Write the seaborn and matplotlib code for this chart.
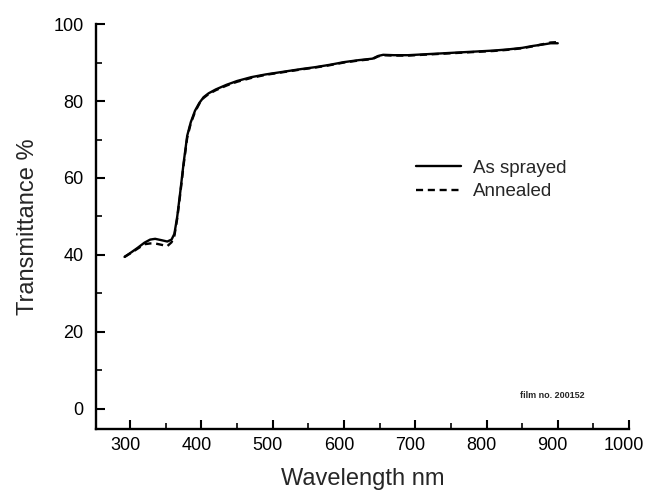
import matplotlib
matplotlib.use("Agg")
import matplotlib.pyplot as plt
from matplotlib.ticker import MultipleLocator
import matplotlib.transforms as mtransforms
import seaborn as sns
import pandas as pd

# Data
wavelength = [292, 300, 310, 320, 328, 335, 345, 352, 358, 362, 366, 370, 375, 380,
              385, 391, 397, 403, 410, 420, 435, 450, 470, 490, 515, 540, 560, 580,
              600, 620, 640, 648, 655, 670, 690, 710, 730, 750, 770, 790, 810, 830,
              850, 865, 880, 890, 900]
as_sprayed = [39.5, 40.5, 41.8, 43.2, 44.0, 44.2, 43.8, 43.5, 44.0, 45.5, 50.0, 56.0,
              64.0, 71.0, 74.5, 77.5, 79.5, 81.0, 82.0, 83.0, 84.2, 85.2, 86.2, 86.9,
              87.6, 88.3, 88.8, 89.4, 90.1, 90.6, 91.0, 91.7, 92.0, 91.9, 91.9, 92.1,
              92.3, 92.5, 92.7, 92.9, 93.1, 93.4, 93.8, 94.3, 94.7, 95.0, 95.0]
annealed = [39.5, 40.4, 41.6, 42.8, 43.0, 43.0, 42.6, 42.3, 43.3, 45.0, 49.5, 55.5,
            63.5, 70.5, 74.2, 77.2, 79.3, 80.8, 81.8, 82.8, 84.0, 85.0, 86.0, 86.8,
            87.5, 88.2, 88.7, 89.3, 90.0, 90.5, 90.9, 91.6, 91.9, 91.8, 91.8, 92.0,
            92.2, 92.4, 92.6, 92.8, 93.0, 93.3, 93.7, 94.2, 94.8, 95.2, 95.3]
series_names = ["As sprayed", "Annealed"]
x_ticks = [300, 400, 500, 600, 700, 800, 900, 1000]
y_ticks = [0, 20, 40, 60, 80, 100]

df = pd.DataFrame({
    "Wavelength": wavelength * 2,
    "T": as_sprayed + annealed,
    "Sample": [series_names[0]] * len(wavelength) + [series_names[1]] * len(wavelength),
})

sns.set_style("ticks")
plt.rcParams["font.family"] = ["Liberation Sans", "DejaVu Sans"]

fig = plt.figure(figsize=(6.47, 4.90), dpi=100)
ax = fig.add_axes([0.1484, 0.1245, 0.8238, 0.8265])

sns.lineplot(data=df, x="Wavelength", y="T", hue="Sample", style="Sample",
             palette=["black", "black"], dashes=[(None, None), (3, 2)],
             linewidth=1.7, ax=ax, sort=False, estimator=None)

ax.set_xlim(252, 1000)
ax.set_ylim(-5.2, 100)
ax.set_xticks(x_ticks)
ax.set_yticks(y_ticks)
ax.xaxis.set_minor_locator(MultipleLocator(50))
ax.yaxis.set_minor_locator(MultipleLocator(10))
ax.tick_params(which="major", direction="in", length=6.5, width=1.5,
               labelsize=13, color="black", labelcolor="black", pad=6)
ax.tick_params(which="minor", direction="in", length=4, width=1.2, color="black")
ax.tick_params(axis="y", which="major", pad=9)

# x tick labels sit slightly left of their ticks in the reference
offset = mtransforms.ScaledTranslation(-5 / 100, 0, fig.dpi_scale_trans)
for lbl in ax.get_xticklabels():
    lbl.set_transform(lbl.get_transform() + offset)

for s in ["top", "right"]:
    ax.spines[s].set_visible(False)
for s in ["left", "bottom"]:
    ax.spines[s].set_linewidth(1.7)
    ax.spines[s].set_color("black")

ax.set_xlabel("Wavelength nm", fontsize=17, labelpad=10)
ax.set_ylabel("Transmittance %", fontsize=17, labelpad=10)

leg = ax.legend(loc="upper left", bbox_to_anchor=(0.60, 0.665), frameon=False,
                fontsize=13.5, handlelength=2.4, handletextpad=0.65,
                borderaxespad=0, borderpad=0, labelspacing=0.35)
for h in leg.get_lines():
    h.set_linewidth(1.7)

ax.text(0.857, 0.082, "film no. 200152", transform=ax.transAxes, fontsize=6.5,
        fontweight="bold", ha="center", va="center")

fig.savefig("out.png", dpi=100, facecolor="white")
